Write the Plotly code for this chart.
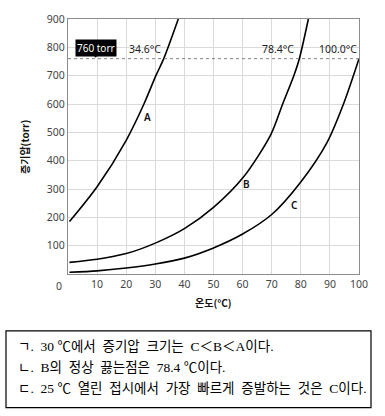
import plotly.graph_objects as go

# ---- data ----
a_temp = [0.5, 10, 20, 26.1, 30.2, 32.9, 37.9]
a_press = [185, 308, 472, 600, 700, 760, 900]

b_temp = [0.5, 10, 20, 30, 40, 50, 60.3, 69.7, 73.8, 77.6, 79.5, 82.6]
b_press = [41, 52, 72, 109, 160, 235, 342, 492, 601, 700, 760, 900]

c_temp = [0.5, 10, 20, 30, 40, 50, 60, 70, 80, 89, 94.7, 100]
c_press = [6, 11, 21, 35, 56, 92, 141, 210, 325, 464, 601, 760]

x_ticks = [10, 20, 30, 40, 50, 60, 70, 80, 90, 100]
y_ticks = [100, 200, 300, 400, 500, 600, 700, 800, 900]

atm = 760
bp_labels = [("34.6°C", 26.5), ("78.4°C", 72.0), ("100.0°C", 92.9)]
curve_labels = [("A", 27.4, 553), ("B", 61.3, 319), ("C", 77.8, 245)]

statements = [
    "ㄱ.  30 ℃에서  증기압  크기는  C＜B＜A이다.",
    "ㄴ.  B의  정상  끓는점은  78.4 ℃이다.",
    "ㄷ.  25 ℃  열린  접시에서  가장  빠르게  증발하는  것은  C이다.",
]

W, H = 385, 416
L, R, T, B = 68, 359, 13, 274


def px(x):
    return (x - L) / (R - L)


def py(y):
    return (B - y) / (B - T)


fig = go.Figure()
for xs, ys in [(a_temp, a_press), (b_temp, b_press), (c_temp, c_press)]:
    fig.add_trace(go.Scatter(x=xs, y=ys, mode="lines",
                             line=dict(color="black", width=1.6, shape="spline", smoothing=0.8),
                             hoverinfo="skip", showlegend=False))

# pointer of the 760 torr tag
fig.add_trace(go.Scatter(x=[9.5], y=[774], mode="markers",
                         marker=dict(symbol="triangle-down", size=6, color="black"),
                         hoverinfo="skip", showlegend=False))

fig.add_shape(type="line", xref="x", yref="y", x0=0, x1=100, y0=atm, y1=atm,
              line=dict(color="#808080", width=1, dash="3px,3px"), layer="above")

annotations = []
for txt, xv in bp_labels:
    annotations.append(dict(x=xv, y=atm, yshift=10, text=txt, showarrow=False,
                            font=dict(family="Noto Sans", size=10.5, color="#222"),
                            xanchor="center", yanchor="middle"))
for txt, xv, yv in curve_labels:
    annotations.append(dict(x=xv, y=yv, text=txt, showarrow=False,
                            font=dict(family="Noto Sans", size=10, color="#111", weight=600),
                            xanchor="center", yanchor="middle"))
annotations.append(dict(x=9.5, y=797, text="760 torr", showarrow=False, bgcolor="black",
                        borderpad=1, font=dict(family="Noto Sans", size=10, color="white"),
                        xanchor="center", yanchor="middle"))
annotations.append(dict(xref="paper", yref="paper", x=px(59), y=py(286), text="0",
                        showarrow=False, font=dict(family="Noto Sans", size=10.5, color="#444"),
                        xanchor="center", yanchor="middle"))
annotations.append(dict(xref="paper", yref="paper", x=px(213.5), y=py(303), text="온도(°C)",
                        showarrow=False, font=dict(family="Noto Sans CJK KR", size=10, color="#111", weight=600),
                        xanchor="center", yanchor="middle"))
annotations.append(dict(xref="paper", yref="paper", x=px(25), y=py(144), text="증기압(torr)",
                        textangle=-90, showarrow=False,
                        font=dict(family="Noto Sans CJK KR", size=10, color="#111", weight=600),
                        xanchor="center", yanchor="middle"))
for i, s in enumerate(statements):
    yc = [348, 370, 390.7][i]
    annotations.append(dict(xref="paper", yref="paper", x=px(16), y=py(yc), text=s,
                            showarrow=False,
                            font=dict(family="Liberation Serif, Noto Sans CJK KR", size=13.5, color="black"),
                            xanchor="left", yanchor="middle"))

fig.add_shape(type="rect", xref="paper", yref="paper", x0=px(6), x1=px(371),
              y0=py(410.7), y1=py(332.3), line=dict(color="black", width=1.2))

fig.update_layout(
    width=W, height=H,
    margin=dict(l=L, r=W - R, t=T, b=H - B),
    paper_bgcolor="white", plot_bgcolor="white",
    annotations=annotations,
    xaxis=dict(range=[0, 100], tickvals=x_ticks, showgrid=True, gridcolor="#dadada", gridwidth=1,
               showline=True, linecolor="#8c8c8c", linewidth=1, mirror=True, zeroline=False,
               ticks="", tickfont=dict(family="Noto Sans", size=10.5, color="#444"), fixedrange=True),
    yaxis=dict(range=[0, 900], tickvals=y_ticks, showgrid=True, gridcolor="#dadada", gridwidth=1,
               showline=True, linecolor="#8c8c8c", linewidth=1, mirror=True, zeroline=False,
               ticks="", tickfont=dict(family="Noto Sans", size=10.5, color="#444"), fixedrange=True),
)

fig.write_html("out.html", config={"displayModeBar": False},
               post_script="document.body.style.margin='0';")
